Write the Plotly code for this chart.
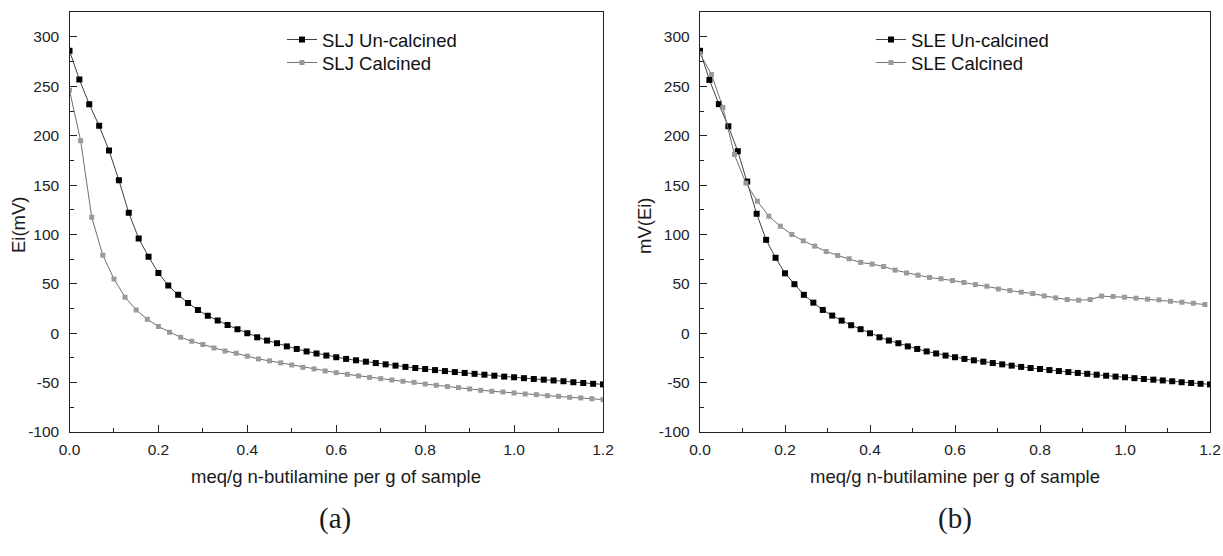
import plotly.graph_objects as go

# ---------------- data ----------------
X_UNCALC = [0.0000, 0.0222, 0.0444, 0.0667, 0.0889, 0.1111, 0.1333, 0.1556, 0.1778, 0.2000,
            0.2222, 0.2444, 0.2667, 0.2889, 0.3111, 0.3333, 0.3556, 0.3778, 0.4000, 0.4222,
            0.4444, 0.4667, 0.4889, 0.5111, 0.5333, 0.5556, 0.5778, 0.6000, 0.6222, 0.6444,
            0.6667, 0.6889, 0.7111, 0.7333, 0.7556, 0.7778, 0.8000, 0.8222, 0.8444, 0.8667,
            0.8889, 0.9111, 0.9333, 0.9556, 0.9778, 1.0000, 1.0222, 1.0444, 1.0667, 1.0889,
            1.1111, 1.1333, 1.1556, 1.1778, 1.2000]
SLJ_UNCALCINED = [286, 257, 232, 210, 185, 155, 122, 96, 77.5, 61,
                  48.3, 38.9, 30.7, 23.6, 17.6, 12.8, 8.4, 4.1, 0, -4.1,
                  -7.4, -10.1, -13.3, -15.9, -18.4, -20.5, -22.6, -24.3, -26, -27.4,
                  -28.8, -30.2, -31.5, -32.8, -34.1, -35.2, -36.2, -37.3, -38.3, -39.3,
                  -40.2, -41.1, -42, -43, -43.9, -44.6, -45.5, -46.3, -47, -47.8,
                  -48.6, -49.6, -50.4, -51.2, -51.8]
SLE_UNCALCINED = [286, 256.5, 232, 209.6, 184.3, 153.6, 121, 94.6, 76.4, 60.7,
                  49.7, 38.9, 31, 23.6, 17.9, 12.8, 8.1, 4.1, 0, -4.1,
                  -7.4, -10.1, -13.3, -15.9, -18.4, -20.5, -22.6, -24.3, -26, -27.4,
                  -28.8, -30.2, -31.5, -32.8, -34.1, -35.2, -36.2, -37.3, -38.3, -39.3,
                  -40.2, -41.1, -42, -43, -43.9, -44.6, -45.5, -46.3, -47, -47.8,
                  -48.6, -49.6, -50.4, -51.2, -51.8]

X_SLJ_CALC = [0.000, 0.025, 0.050, 0.075, 0.100, 0.125, 0.150, 0.175, 0.200, 0.225,
              0.250, 0.275, 0.300, 0.325, 0.350, 0.375, 0.400, 0.425, 0.450, 0.475,
              0.500, 0.525, 0.550, 0.575, 0.600, 0.625, 0.650, 0.675, 0.700, 0.725,
              0.750, 0.775, 0.800, 0.825, 0.850, 0.875, 0.900, 0.925, 0.950, 0.975,
              1.000, 1.025, 1.050, 1.075, 1.100, 1.125, 1.150, 1.175, 1.200]
SLJ_CALCINED = [246, 195, 117.5, 79, 55, 36.5, 23.6, 14.2, 6.8, 1,
                -4.1, -8.1, -11.5, -14.9, -17.9, -20.3, -23.3, -26, -28, -30,
                -32.1, -34.5, -36.1, -38.2, -39.9, -41.6, -43.2, -44.7, -46.0, -47.3,
                -48.6, -49.7, -51.4, -52.7, -54, -55, -56.4, -57.8, -58.8, -59.5,
                -60.5, -61.5, -62.2, -63.2, -63.9, -64.9, -65.5, -66.3, -67.2]

X_SLE_CALC = [0.000, 0.027, 0.054, 0.081, 0.108, 0.135, 0.162, 0.189, 0.216, 0.243,
              0.270, 0.297, 0.324, 0.351, 0.378, 0.405, 0.432, 0.459, 0.486, 0.513,
              0.540, 0.567, 0.594, 0.621, 0.648, 0.675, 0.702, 0.729, 0.756, 0.783,
              0.810, 0.837, 0.864, 0.891, 0.918, 0.945, 0.972, 0.999, 1.026, 1.053,
              1.080, 1.107, 1.134, 1.161, 1.188]
SLE_CALCINED = [283, 262, 228.5, 181, 152, 133.7, 118.5, 108.4, 100, 93.6,
                88.2, 82.8, 78.8, 75.4, 71.7, 70, 67.6, 63.9, 61, 58.8,
                56.5, 55.2, 53.4, 51.4, 49.3, 47.6, 44.8, 43.2, 41.6, 40.2,
                37.8, 35.8, 34.1, 33.4, 34.1, 37.6, 37.2, 36.5, 35.5, 34.5,
                33.8, 32.4, 31.4, 30.4, 29.1]

X_TICKS = [0.0, 0.2, 0.4, 0.6, 0.8, 1.0, 1.2]
X_TICKTEXT = ["0.0", "0.2", "0.4", "0.6", "0.8", "1.0", "1.2"]
Y_TICKS = [-100, -50, 0, 50, 100, 150, 200, 250, 300]
Y_TICKTEXT = ["-100", "-50", "0", "50", "100", "150", "200", "250", "300"]

X_TITLE = "meq/g n-butilamine per g of sample"
Y_TITLE_A = "Ei(mV)"
Y_TITLE_B = "mV(Ei)"

# ---------------- figure ----------------
W, H = 1223, 556
BLACK_M, BLACK_L = "#000000", "#404040"
GRAY_M, GRAY_L = "#9a9a9a", "#707070"
FONT = "Liberation Sans, Arial, sans-serif"
SERIF = "Liberation Serif, Times New Roman, serif"


def px_x(p):
    return p / W


def px_y(p):
    return 1 - p / H


fig = go.Figure()


def add(x, y, name, xa, ya, mcol, lcol, size, legend):
    fig.add_trace(go.Scatter(
        x=x, y=y, name=name, xaxis=xa, yaxis=ya, mode="lines+markers",
        line=dict(color=lcol, width=1),
        marker=dict(symbol="square", size=size, color=mcol),
        legend=legend))


add(X_UNCALC, SLJ_UNCALCINED, "SLJ Un-calcined", "x", "y", BLACK_M, BLACK_L, 6, "legend")
add(X_SLJ_CALC, SLJ_CALCINED, "SLJ Calcined", "x", "y", GRAY_M, GRAY_L, 5, "legend2")
add(X_UNCALC, SLE_UNCALCINED, "SLE Un-calcined", "x2", "y2", BLACK_M, BLACK_L, 6, "legend3")
add(X_SLE_CALC, SLE_CALCINED, "SLE Calcined", "x2", "y2", GRAY_M, GRAY_L, 5, "legend4")

ydom = [px_y(432), px_y(12)]

xcommon = dict(range=[0, 1.2], tickmode="array", tickvals=X_TICKS, ticktext=X_TICKTEXT,
               ticks="inside", ticklen=7, tickwidth=1.2, tickcolor="#222",
               minor=dict(ticks="inside", ticklen=4, dtick=0.1, tick0=0, tickwidth=1.2, tickcolor="#222"),
               showline=True, linecolor="#222", linewidth=1.4, mirror=True,
               showgrid=False, zeroline=False, automargin=False, ticklabeloverflow="allow",
               tickfont=dict(family=FONT, size=15.5, color="#222"), ticklabelstandoff=3)
ycommon = dict(range=[-100, 325.3], tickmode="array", tickvals=Y_TICKS, ticktext=Y_TICKTEXT,
               ticks="inside", ticklen=7, tickwidth=1.2, tickcolor="#222",
               minor=dict(ticks="inside", ticklen=4, dtick=25, tick0=0, tickwidth=1.2, tickcolor="#222"),
               showline=True, linecolor="#222", linewidth=1.4, mirror=True,
               showgrid=False, zeroline=False, automargin=False, ticklabeloverflow="allow",
               tickfont=dict(family=FONT, size=15.5, color="#222"), ticklabelstandoff=6,
               domain=ydom)

legfont = dict(family=FONT, size=18.5, color="#111")


def leg(xp, yp):
    return dict(x=px_x(xp), y=px_y(yp), xanchor="left", yanchor="middle",
                bgcolor="rgba(0,0,0,0)", font=legfont, itemwidth=30, tracegroupgap=0)


fig.update_layout(
    width=W, height=H,
    margin=dict(l=0, r=0, t=0, b=0),
    paper_bgcolor="white", plot_bgcolor="white",
    xaxis=dict(domain=[px_x(69.5), px_x(603)], anchor="y", **xcommon),
    yaxis=dict(anchor="x", **ycommon),
    xaxis2=dict(domain=[px_x(700), px_x(1210)], anchor="y2", **xcommon),
    yaxis2=dict(anchor="x2", **ycommon),
    legend=leg(282, 40),
    legend2=leg(282, 63),
    legend3=leg(871, 40),
    legend4=leg(871, 63),
    showlegend=True,
)


def note(text, x, y, size, family, angle=0):
    return dict(text=text, x=px_x(x), y=px_y(y), xref="paper", yref="paper",
                xanchor="center", yanchor="middle", showarrow=False, textangle=angle,
                font=dict(family=family, size=size, color="#1a1a1a"))


ann = [
    note(X_TITLE, 336, 476, 18.5, FONT),
    note(X_TITLE, 955, 476, 18.5, FONT),
    note(Y_TITLE_A, 19, 225, 18.5, FONT, -90),
    note(Y_TITLE_B, 645, 225, 18.5, FONT, -90),
    note("(a)", 335, 518, 29, SERIF),
    note("(b)", 955, 518, 29, SERIF),
]
fig.update_layout(annotations=ann)

# remove the browser's default 8px page margin so the 1223x556 figure fills the window exactly
POST = ("document.documentElement.style.margin='0';document.body.style.margin='0';"
        "document.body.style.overflow='hidden';")
fig.write_html("out.html", post_script=POST, config={"displayModeBar": False})
